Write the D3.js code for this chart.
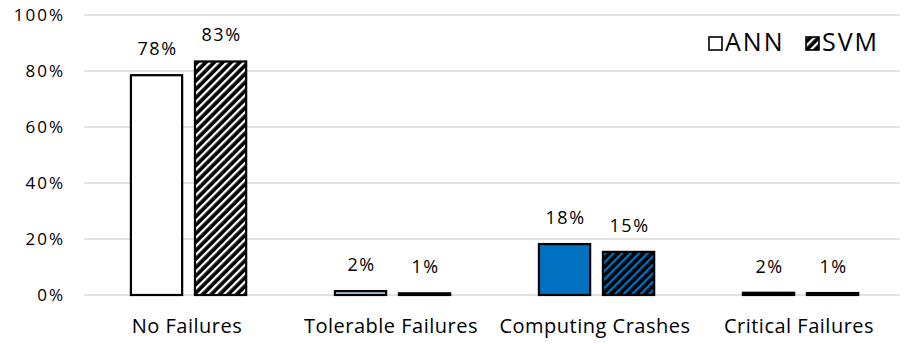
<!DOCTYPE html>
<html>
<head>
<meta charset="utf-8">
<script src="https://cdn.jsdelivr.net/npm/d3@7"></script>
<style>
  body { margin: 0; background: #fff; }
  text { font-family: "Open Sans", "Noto Sans", sans-serif; fill: #000; }
</style>
</head>
<body>
<div id="chart"></div>
<script>
var categories = ["No Failures", "Tolerable Failures", "Computing Crashes", "Critical Failures"];
var series = ["ANN", "SVM"];
// bar heights as drawn, and the labels printed on top
var annValues = [78.5, 1.4, 18.2, 0.8];
var svmValues = [83.4, 0.6, 15.4, 0.7];
var annLabels = ["78%", "2%", "18%", "2%"];
var svmLabels = ["83%", "1%", "15%", "1%"];
var annFills = ["#ffffff", "#b4c7e7", "#0070c0", "#000000"];
var svmBacks = ["#ffffff", "#000000", "#0070c0", "#000000"];
var yTicks = [0, 20, 40, 60, 80, 100];

var width = 906, height = 344;
var margin = {top: 15, right: 6, bottom: 49, left: 84};

var svg = d3.select("#chart").append("svg")
    .attr("width", width)
    .attr("height", height);

var defs = svg.append("defs");
function hatch(id, bg) {
  var p = defs.append("pattern")
      .attr("id", id)
      .attr("patternUnits", "userSpaceOnUse")
      .attr("width", 6).attr("height", 6)
      .attr("patternTransform", "rotate(45)");
  p.append("rect").attr("width", 6).attr("height", 6).attr("fill", "#000");
  p.append("rect").attr("x", 0).attr("width", 2.3).attr("height", 6).attr("fill", bg);
}
svmBacks.forEach(function(c, i) { hatch("hatch-" + i, c); });
hatch("hatch-legend", "#ffffff");

var x = d3.scaleBand()
    .domain(categories)
    .range([margin.left, width - margin.right]);

var xs = d3.scaleBand()
    .domain(series)
    .range([x.bandwidth() * 0.23, x.bandwidth() * 0.795])
    .paddingInner(0.2);

var y = d3.scaleLinear()
    .domain([0, 100])
    .range([height - margin.bottom, margin.top]);

// gridlines
svg.append("g").selectAll("line")
  .data(yTicks)
  .enter().append("line")
    .attr("x1", margin.left)
    .attr("x2", width - margin.right)
    .attr("y1", function(d) { return y(d); })
    .attr("y2", function(d) { return y(d); })
    .attr("stroke", "#d9d9d9")
    .attr("stroke-width", 1.5);

svg.append("g").selectAll("text")
  .data(yTicks)
  .enter().append("text")
    .attr("x", 65)
    .attr("y", function(d) { return y(d); })
    .attr("dy", "0.35em")
    .attr("text-anchor", "end")
    .style("font-size", "17px")
    .style("letter-spacing", "2px")
    .text(function(d) { return d + "%"; });

var rows = categories.map(function(c, i) {
  return [
    {cat: c, s: "ANN", v: annValues[i], label: annLabels[i], fill: annFills[i]},
    {cat: c, s: "SVM", v: svmValues[i], label: svmLabels[i], fill: "url(#hatch-" + i + ")"}
  ];
});

var groups = svg.append("g").selectAll("g")
  .data(rows)
  .enter().append("g")
    .attr("transform", function(d) { return "translate(" + x(d[0].cat) + ",0)"; });

groups.selectAll("rect")
  .data(function(d) { return d; })
  .enter().append("rect")
    .attr("x", function(d) { return xs(d.s); })
    .attr("width", xs.bandwidth())
    .attr("y", function(d) { return y(d.v); })
    .attr("height", function(d) { return y(0) - y(d.v); })
    .attr("fill", function(d) { return d.fill; })
    .attr("stroke", "#000")
    .attr("stroke-width", 2.2);

groups.selectAll("text")
  .data(function(d) { return d; })
  .enter().append("text")
    .attr("x", function(d) { return xs(d.s) + xs.bandwidth() / 2 + 1; })
    .attr("y", function(d) { return y(d.v) - 20; })
    .attr("text-anchor", "middle")
    .style("font-size", "18px")
    .style("letter-spacing", "1.5px")
    .text(function(d) { return d.label; });

// category labels
svg.append("g").selectAll("text")
  .data(categories)
  .enter().append("text")
    .attr("x", function(d) { return x(d) + x.bandwidth() / 2 + 1; })
    .attr("y", 333)
    .attr("text-anchor", "middle")
    .style("font-size", "20px")
    .style("letter-spacing", "0.5px")
    .text(function(d) { return d; });

// legend
var legend = svg.append("g").attr("transform", "translate(708,37)");
var legendItems = [
  {name: "ANN", fill: "#ffffff", x: 0},
  {name: "SVM", fill: "url(#hatch-legend)", x: 97}
];
var li = legend.selectAll("g")
  .data(legendItems)
  .enter().append("g")
    .attr("transform", function(d) { return "translate(" + d.x + ",0)"; });
li.append("rect")
    .attr("x", 1).attr("y", 0)
    .attr("width", 13).attr("height", 13)
    .attr("fill", function(d) { return d.fill; })
    .attr("stroke", "#000")
    .attr("stroke-width", 1.6);
li.append("text")
    .attr("x", 17)
    .attr("y", 14)
    .style("font-size", "25px")
    .style("letter-spacing", "2px")
    .text(function(d) { return d.name; });
</script>
</body>
</html>
